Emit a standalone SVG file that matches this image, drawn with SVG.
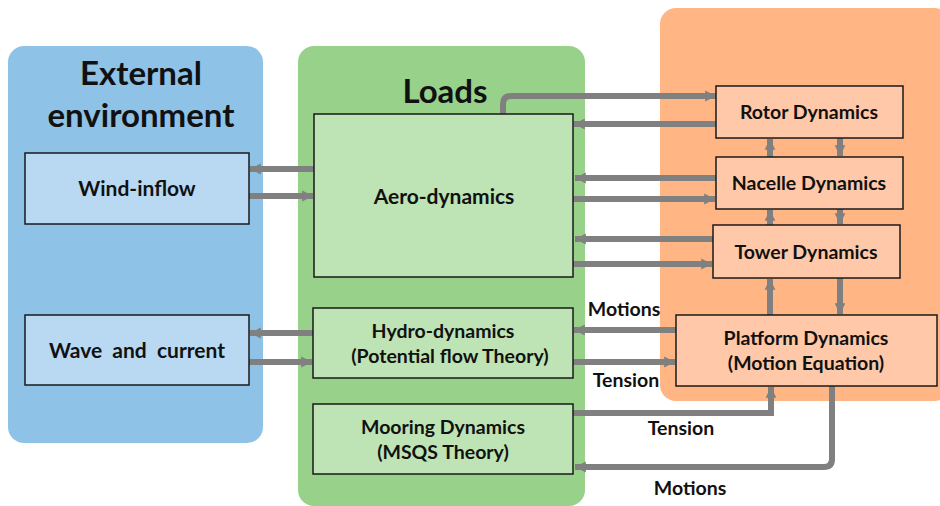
<svg xmlns="http://www.w3.org/2000/svg" width="940" height="506" viewBox="0 0 940 506">
  <style>
    .panel-env { fill: #8EC3E7; }
    .panel-load { fill: #97D18A; }
    .panel-struct { fill: #FFB584; }
    .box { stroke: #1a1a1a; stroke-width: 1.5; }
    .env { fill: #B8D9F1; }
    .load { fill: #BEE3B4; }
    .struct { fill: #FFC9A9; }
    text { font-family: Lato, "Open Sans", "Liberation Sans", sans-serif; font-weight: bold; fill: #111; text-anchor: middle; }
    .title { font-size: 33px; }
    .lbl { font-size: 21px; }
    .small { font-size: 19.5px; }
    .conn { stroke: #808080; stroke-width: 6; fill: none; }
  </style>
  <defs>
    <marker id="ah" viewBox="0 0 10 10" refX="10" refY="5" markerWidth="1.8" markerHeight="2.2" markerUnits="strokeWidth" orient="auto">
      <path d="M0,0 L10,5 L0,10 z" fill="#808080"/>
    </marker>
  </defs>

  <!-- background panels -->
  <rect class="panel-env" x="8" y="46" width="255" height="397" rx="16"/>
  <rect class="panel-load" x="298" y="46" width="287" height="460" rx="16"/>
  <rect class="panel-struct" x="660" y="8" width="290" height="393" rx="16"/>

  <text class="title" x="141" y="85">External</text>
  <text class="title" x="141" y="127">environment</text>
  <text class="title" x="445" y="103">Loads</text>

  <!-- connectors -->
  <g id="connectors">
    <line class="conn" x1="314" y1="169" x2="250" y2="169" marker-end="url(#ah)"/>
    <line class="conn" x1="249" y1="196" x2="313" y2="196" marker-end="url(#ah)"/>
    <line class="conn" x1="313" y1="333" x2="250" y2="333" marker-end="url(#ah)"/>
    <line class="conn" x1="249" y1="362" x2="312" y2="362" marker-end="url(#ah)"/>

    <path class="conn" d="M503,114 V104 Q503,96 511,96 H716" marker-end="url(#ah)"/>
    <line class="conn" x1="716" y1="124" x2="574" y2="124" marker-end="url(#ah)"/>
    <line class="conn" x1="716" y1="178" x2="575" y2="178" marker-end="url(#ah)"/>
    <line class="conn" x1="573" y1="199" x2="715" y2="199" marker-end="url(#ah)"/>
    <line class="conn" x1="713" y1="239" x2="575" y2="239" marker-end="url(#ah)"/>
    <line class="conn" x1="573" y1="264" x2="712" y2="264" marker-end="url(#ah)"/>

    <line class="conn" x1="770" y1="157" x2="770" y2="139" marker-end="url(#ah)"/>
    <line class="conn" x1="840" y1="138" x2="840" y2="156" marker-end="url(#ah)"/>
    <line class="conn" x1="770" y1="225" x2="770" y2="210" marker-end="url(#ah)"/>
    <line class="conn" x1="840" y1="209" x2="840" y2="224" marker-end="url(#ah)"/>
    <line class="conn" x1="770" y1="315" x2="770" y2="279" marker-end="url(#ah)"/>
    <line class="conn" x1="840" y1="278" x2="840" y2="314" marker-end="url(#ah)"/>

    <line class="conn" x1="676" y1="330" x2="574" y2="330" marker-end="url(#ah)"/>
    <line class="conn" x1="573" y1="362" x2="675" y2="362" marker-end="url(#ah)"/>

    <path class="conn" d="M573,413 H771 V387" marker-end="url(#ah)"/>
    <path class="conn" d="M832,386 V459 Q832,467 824,467 H575" marker-end="url(#ah)"/>

    <text class="small" x="624" y="316">Motions</text>
    <text class="small" x="626" y="387">Tension</text>
    <text class="small" x="681" y="435">Tension</text>
    <text class="small" x="690" y="495">Motions</text>
  </g>

  <!-- external environment nodes -->
  <g id="wind-inflow">
    <rect class="box env" x="25" y="153" width="224" height="71"/>
    <text class="lbl" x="137" y="196">Wind-inflow</text>
  </g>
  <g id="wave-current">
    <rect class="box env" x="25" y="315" width="224" height="70"/>
    <text class="lbl" x="137" y="358" xml:space="preserve">Wave  and  current</text>
  </g>

  <!-- load nodes -->
  <g id="aero-dynamics">
    <rect class="box load" x="314" y="114" width="259" height="163"/>
    <text class="lbl" x="444" y="204">Aero-dynamics</text>
  </g>
  <g id="hydro-dynamics">
    <rect class="box load" x="313" y="308" width="260" height="70"/>
    <text class="small" x="443" y="338">Hydro-dynamics</text>
    <text class="small" x="450" y="363">(Potential flow Theory)</text>
  </g>
  <g id="mooring-dynamics">
    <rect class="box load" x="313" y="404" width="260" height="70"/>
    <text class="small" x="443" y="434">Mooring Dynamics</text>
    <text class="small" x="443" y="459">(MSQS Theory)</text>
  </g>

  <!-- structural nodes -->
  <g id="rotor-dynamics">
    <rect class="box struct" x="716" y="86" width="187" height="52"/>
    <text class="small" x="809" y="119">Rotor Dynamics</text>
  </g>
  <g id="nacelle-dynamics">
    <rect class="box struct" x="716" y="157" width="187" height="52"/>
    <text class="small" x="809" y="190">Nacelle Dynamics</text>
  </g>
  <g id="tower-dynamics">
    <rect class="box struct" x="713" y="225" width="187" height="53"/>
    <text class="small" x="806" y="259">Tower Dynamics</text>
  </g>
  <g id="platform-dynamics">
    <rect class="box struct" x="676" y="315" width="261" height="71"/>
    <text class="small" x="806" y="345">Platform Dynamics</text>
    <text class="small" x="806" y="370">(Motion Equation)</text>
  </g>
</svg>
